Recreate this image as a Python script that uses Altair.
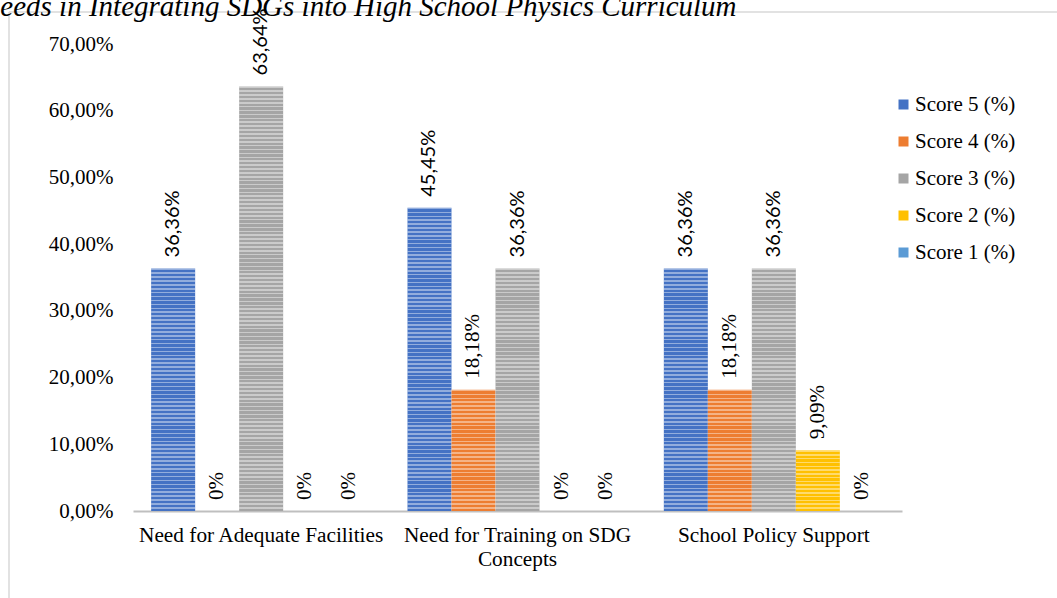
import altair as alt
import pandas as pd

# Survey categories and score shares (%)
categories = [
    "Need for Adequate Facilities",
    "Need for Training on SDG Concepts",
    "School Policy Support",
]
scores = ["Score 5 (%)", "Score 4 (%)", "Score 3 (%)", "Score 2 (%)", "Score 1 (%)"]
colors = ["#4472C4", "#ED7D31", "#A5A5A5", "#FFC000", "#5B9BD5"]

score5 = [36.36, 45.45, 36.36]
score4 = [0.0, 18.18, 18.18]
score3 = [63.64, 36.36, 36.36]
score2 = [0.0, 0.0, 9.09]
score1 = [0.0, 0.0, 0.0]

y_ticks = [0, 10, 20, 30, 40, 50, 60, 70]

series = [score5, score4, score3, score2, score1]
rows = []
for s, vals in zip(scores, series):
    for c, v in zip(categories, vals):
        rows.append({"cat": c, "score": s, "v": v})
df = pd.DataFrame(rows)

SERIF = "Liberation Serif"
SANS = "Lato"
PLOT_W, PLOT_H = 769, 467
PX_PER_UNIT = PLOT_H / 70.0

x_enc = alt.X(
    "cat:N",
    sort=categories,
    scale=alt.Scale(domain=categories, paddingInner=0.1417, paddingOuter=0.0708),
    axis=alt.Axis(
        title=None,
        labelAngle=0,
        labelFont=SERIF,
        labelFontSize=21.3,
        labelColor="#000000",
        labelPadding=13,
        labelLineHeight=24,
        labelLimit=400,
        labelExpr="datum.value == 'Need for Training on SDG Concepts' ? "
                  "['Need for Training on SDG', 'Concepts'] : datum.value",
        ticks=False,
        domainColor="#bfbfbf",
        domainWidth=2,
        grid=False,
    ),
)
xoff_enc = alt.XOffset(
    "score:N",
    sort=scores,
    scale=alt.Scale(domain=scores, paddingInner=0, paddingOuter=0),
)
y_enc = alt.Y(
    "v:Q",
    scale=alt.Scale(domain=[0, 70], nice=False),
    axis=alt.Axis(
        title=None,
        values=y_ticks,
        labelExpr="replace(format(datum.value, '.2f'), '.', ',') + '%'",
        labelFont=SERIF,
        labelFontSize=21,
        labelColor="#000000",
        labelPadding=20,
        ticks=False,
        domain=False,
        grid=False,
    ),
)

base = alt.Chart(df)

bars = base.mark_bar().encode(
    x=x_enc,
    xOffset=xoff_enc,
    y=y_enc,
    color=alt.Color(
        "score:N",
        sort=scores,
        scale=alt.Scale(domain=scores, range=colors),
        legend=alt.Legend(
            title=None,
            orient="none",
            legendX=760,
            legendY=50,
            symbolType="square",
            symbolSize=100,
            symbolStrokeWidth=0,
            labelFont=SERIF,
            labelFontSize=21,
            labelColor="#000000",
            labelOffset=1,
            rowPadding=15,
            padding=0,
        ),
    ),
)


def stripe_fill(n):
    light = "rgba(255,255,255,0.42)"
    clear = "rgba(255,255,255,0)"
    stops = []
    for i in range(n):
        a, b, c = i / n, (i + 0.4) / n, (i + 1) / n
        stops += [
            {"offset": a, "color": light},
            {"offset": b, "color": light},
            {"offset": b, "color": clear},
            {"offset": c, "color": clear},
        ]
    return {"gradient": "linear", "x1": 0, "y1": 0, "x2": 0, "y2": 1, "stops": stops}


# horizontal line texture laid over each non-zero bar
stripe_layers = []
for r in rows:
    if r["v"] <= 0:
        continue
    n = max(1, round(r["v"] * PX_PER_UNIT / 3.9))
    layer = (
        base.transform_filter(
            (alt.datum.cat == r["cat"]) & (alt.datum.score == r["score"])
        )
        .mark_bar(fill=stripe_fill(n))
        .encode(x=x_enc, xOffset=xoff_enc, y=y_enc)
    )
    stripe_layers.append(layer)

label_expr = "datum.v == 0 ? '0%' : replace(format(datum.v, '.2f'), '.', ',') + '%'"

sans_labels = (
    base.transform_filter(alt.FieldOneOfPredicate(field="score", oneOf=[scores[0], scores[2]]))
    .transform_calculate(lbl=label_expr)
    .mark_text(angle=270, align="left", baseline="middle", dx=11,
               font=SANS, fontSize=20, color="#000000")
    .encode(x=x_enc, xOffset=xoff_enc, y=y_enc, text="lbl:N")
)
serif_labels = (
    base.transform_filter(alt.FieldOneOfPredicate(field="score", oneOf=[scores[1], scores[3], scores[4]]))
    .transform_calculate(lbl=label_expr)
    .mark_text(angle=270, align="left", baseline="middle", dx=11,
               font=SERIF, fontSize=21, color="#000000")
    .encode(x=x_enc, xOffset=xoff_enc, y=y_enc, text="lbl:N")
)

# heading and outer frame
heading = alt.Chart(pd.DataFrame({"t": ["Needs in Integrating SDGs into High School Physics Curriculum"]})).mark_text(
    align="left", baseline="alphabetic", font=SERIF, fontStyle="italic", fontSize=29, color="#000000"
).encode(x=alt.value(-152), y=alt.value(-28), text="t:N")

frame_left = alt.Chart(pd.DataFrame({"a": [0]})).mark_rule(color="#d9d9d9", strokeWidth=1.5).encode(
    x=alt.value(-124), y=alt.value(-32), y2=alt.value(560)
)
frame_top = alt.Chart(pd.DataFrame({"a": [0]})).mark_rule(color="#d9d9d9", strokeWidth=1.5).encode(
    x=alt.value(-124), x2=alt.value(930), y=alt.value(-32)
)

chart = alt.layer(
    frame_left, frame_top, heading, bars, *stripe_layers, sans_labels, serif_labels
).properties(
    width=PLOT_W,
    height=PLOT_H,
    padding={"left": 133, "top": 44, "right": 155, "bottom": 87},
    autosize=alt.AutoSizeParams(type="none"),
    background="#ffffff",
).configure_view(stroke=None)

chart.save("out.html", embed_options={"renderer": "svg", "actions": False})
